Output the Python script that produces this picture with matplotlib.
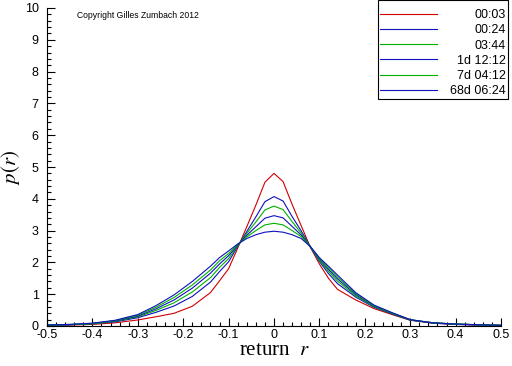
import numpy as np
import matplotlib
matplotlib.use("Agg")
import matplotlib.pyplot as plt
from matplotlib.ticker import MultipleLocator

# returns grid
r = [-0.5, -0.45, -0.4, -0.35, -0.3, -0.26, -0.22, -0.18, -0.14, -0.12, -0.1,
     -0.08, -0.06, -0.04, -0.02, 0.0, 0.02, 0.04, 0.06, 0.08, 0.1, 0.12, 0.14,
     0.18, 0.22, 0.26, 0.3, 0.35, 0.4, 0.45, 0.5]

# densities
p_0003 = [0.02, 0.03, 0.05, 0.10, 0.19, 0.29, 0.40, 0.62, 1.05, 1.42, 1.80,
          2.45, 3.12, 3.80, 4.52, 4.80, 4.54, 3.82, 3.15, 2.48, 1.95, 1.50, 1.15,
          0.82, 0.55, 0.36, 0.18, 0.09, 0.05, 0.03, 0.02]
p_0024 = [0.02, 0.04, 0.07, 0.13, 0.26, 0.43, 0.63, 0.93, 1.38, 1.71, 2.02,
          2.50, 2.97, 3.43, 3.91, 4.07, 3.93, 3.44, 2.99, 2.49, 2.03, 1.65, 1.33,
          0.91, 0.59, 0.38, 0.19, 0.09, 0.05, 0.03, 0.02]
p_0344 = [0.03, 0.04, 0.07, 0.15, 0.29, 0.49, 0.73, 1.07, 1.52, 1.84, 2.12,
          2.52, 2.91, 3.27, 3.65, 3.77, 3.66, 3.28, 2.92, 2.49, 2.06, 1.72, 1.41,
          0.95, 0.61, 0.39, 0.19, 0.10, 0.06, 0.04, 0.02]
p_1d = [0.03, 0.04, 0.08, 0.16, 0.31, 0.54, 0.82, 1.19, 1.66, 1.95, 2.21,
        2.54, 2.85, 3.12, 3.39, 3.47, 3.40, 3.13, 2.86, 2.49, 2.10, 1.78, 1.48,
        0.99, 0.63, 0.40, 0.19, 0.10, 0.06, 0.04, 0.02]
p_7d = [0.03, 0.05, 0.08, 0.17, 0.34, 0.59, 0.90, 1.29, 1.76, 2.05, 2.28,
        2.56, 2.80, 3.00, 3.18, 3.23, 3.18, 3.00, 2.81, 2.50, 2.12, 1.83, 1.54,
        1.02, 0.64, 0.41, 0.20, 0.10, 0.06, 0.04, 0.02]
p_68d = [0.03, 0.05, 0.09, 0.18, 0.36, 0.64, 0.98, 1.40, 1.88, 2.15, 2.36,
         2.58, 2.75, 2.87, 2.95, 2.98, 2.95, 2.87, 2.75, 2.50, 2.15, 1.88, 1.60,
         1.05, 0.66, 0.42, 0.20, 0.10, 0.06, 0.04, 0.02]

labels = ["00:03", "00:24", "03:44", "1d 12:12", "7d 04:12", "68d 06:24"]
series = [p_0003, p_0024, p_0344, p_1d, p_7d, p_68d]
colors = ["#d00000", "#1010c0", "#00b000", "#1010c0", "#00b000", "#1010c0"]

plt.rcParams["font.family"] = "Liberation Sans"
plt.rcParams["mathtext.fontset"] = "stix"

fig = plt.figure(figsize=(5.12, 3.66), dpi=100)
ax = fig.add_axes([47 / 512, 40 / 366, 454 / 512, 318 / 366])

for y, lab, c in zip(series, labels, colors):
    ax.plot(r, y, color=c, lw=0.8, label=lab)

ax.set_xlim(-0.5, 0.5)
ax.set_ylim(0, 10)
ax.spines["top"].set_visible(False)
ax.spines["right"].set_visible(False)
ax.xaxis.set_minor_locator(MultipleLocator(0.02))
ax.yaxis.set_major_locator(MultipleLocator(1))
ax.yaxis.set_minor_locator(MultipleLocator(0.2))
ax.set_xticks(np.round(np.arange(-0.5, 0.51, 0.1), 1))
ax.set_xticklabels(["-0.5", "-0.4", "-0.3", "-0.2", "-0.1", "0",
                    "0.1", "0.2", "0.3", "0.4", "0.5"])
ax.tick_params(which="both", direction="in", labelsize=9)
ax.tick_params(axis="x", pad=2)
ax.tick_params(axis="y", pad=6)
ax.tick_params(which="major", length=6, width=0.8)
ax.tick_params(which="minor", length=3, width=0.8)

ax.set_xlabel("return  $r$", family="Liberation Serif", fontsize=15, labelpad=0)
ax.set_ylabel("$p(r)$", fontsize=15, labelpad=2)

ax.text(0.066, 0.975, "Copyright Gilles Zumbach 2012", transform=ax.transAxes,
        fontsize=6.2, va="center")

leg = ax.legend(loc="upper right", bbox_to_anchor=(1.0154, 1.0252), fontsize=9,
                title=" ", title_fontsize=2,
                handlelength=4.56, handletextpad=1.1, labelspacing=0.26,
                borderpad=0.15, fancybox=False, framealpha=1, edgecolor="black",
                borderaxespad=0)
leg.get_frame().set_linewidth(0.8)

# right-align legend labels
fig.canvas.draw()
renderer = fig.canvas.get_renderer()
widths = [t.get_window_extent(renderer).width for t in leg.get_texts()]
shift = max(widths)
for t, w in zip(leg.get_texts(), widths):
    t.set_position((shift - w, 0))

fig.savefig("out.png", dpi=100)
